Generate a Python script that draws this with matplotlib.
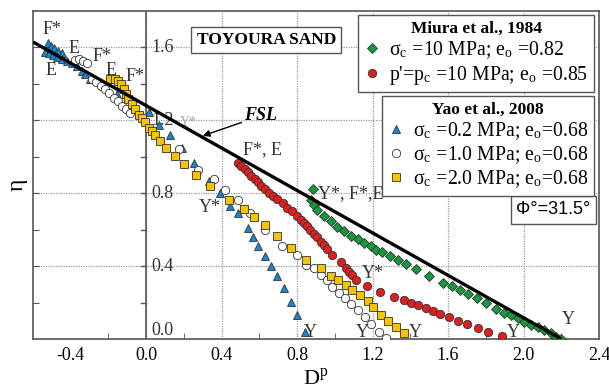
import matplotlib
matplotlib.use("Agg")
import matplotlib.pyplot as plt

plt.rcParams['font.family'] = ['Liberation Serif', 'DejaVu Serif']
plt.rcParams['mathtext.fontset'] = 'stix'

# FSL (phi = 31.5 deg)
fsl_d = [-0.6, 2.2]
fsl_eta = [1.63, 0.0]

# Miura et al., 1984 - sigma_c = 10 MPa
miura_s_d = [0.882, 0.871, 0.889, 0.907, 0.942, 0.978, 1.01, 1.048, 1.088, 1.12, 1.155, 1.19,
             1.217, 1.252, 1.291, 1.335, 1.376, 1.429, 1.5, 1.571, 1.62, 1.663, 1.707, 1.752,
             1.801, 1.854, 1.898, 1.934, 1.969, 2.004, 2.04, 2.075, 2.11, 2.146, 2.173, 2.2]
miura_s_eta = [0.825, 0.765, 0.737, 0.71, 0.673, 0.645, 0.616, 0.59, 0.567, 0.548, 0.526, 0.508,
               0.49, 0.48, 0.457, 0.435, 0.412, 0.385, 0.346, 0.306, 0.29, 0.27, 0.246, 0.224,
               0.196, 0.163, 0.145, 0.132, 0.114, 0.095, 0.077, 0.064, 0.05, 0.031, 0.013, 0.0]

# Miura et al., 1984 - p' = pc = 10 MPa
miura_p_d = [0.485, 0.503, 0.521, 0.538, 0.556, 0.574, 0.591, 0.609, 0.632, 0.65, 0.673, 0.691,
             0.726, 0.748, 0.774, 0.801, 0.818, 0.836, 0.85, 0.868, 0.889, 0.907, 0.925, 0.942,
             0.96, 0.987, 1.031, 1.057, 1.075, 1.093, 1.11, 1.169, 1.24, 1.311, 1.364, 1.403,
             1.441, 1.482, 1.518, 1.558, 1.606, 1.651, 1.7, 1.757, 1.813, 1.884]
miura_p_eta = [0.966, 0.948, 0.933, 0.915, 0.897, 0.878, 0.86, 0.842, 0.823, 0.801, 0.783, 0.768,
               0.746, 0.719, 0.7, 0.673, 0.655, 0.636, 0.618, 0.6, 0.578, 0.559, 0.535, 0.517,
               0.493, 0.462, 0.42, 0.389, 0.37, 0.352, 0.325, 0.29, 0.26, 0.233, 0.215, 0.2,
               0.187, 0.169, 0.156, 0.138, 0.123, 0.101, 0.083, 0.062, 0.04, 0.018]

# Yao et al., 2008 - sigma_c = 0.2 MPa
yao02_d = [-0.522, -0.506, -0.488, -0.465, -0.448, -0.536, -0.513, -0.492, -0.471, -0.448,
           -0.421, -0.394, -0.368, -0.341, -0.324, -0.297, -0.155, 0.013, 0.066, 0.124, 0.19,
           0.252, 0.331, 0.393, 0.446, 0.485, 0.538, 0.567, 0.591, 0.632, 0.659, 0.691, 0.73,
           0.765, 0.801, 0.84]
yao02_eta = [1.626, 1.61, 1.597, 1.58, 1.567, 1.575, 1.567, 1.556, 1.549, 1.535,
             1.525, 1.516, 1.498, 1.47, 1.457, 1.428, 1.342, 1.245, 1.177, 1.117, 1.049,
             0.966, 0.865, 0.801, 0.728, 0.691, 0.609, 0.559, 0.508, 0.453, 0.398, 0.343, 0.279,
             0.205, 0.132, 0.04]

# Yao et al., 2008 - sigma_c = 1.0 MPa
yao10_d = [-0.377, -0.354, -0.333, -0.315, -0.288, -0.265, -0.24, -0.217, -0.195, -0.173,
           -0.152, -0.129, -0.106, -0.085, 0.172, 0.273, 0.358, 0.42, 0.485, 0.549, 0.632,
           0.721, 0.797, 0.845, 0.889, 0.925, 0.956, 0.987, 1.022, 1.052, 1.084, 1.12, 1.158,
           1.194, 1.234, 1.272]
yao10_eta = [1.531, 1.538, 1.525, 1.512, 1.425, 1.41, 1.39, 1.37, 1.348, 1.324,
             1.305, 1.28, 1.263, 1.241, 1.04, 0.93, 0.878, 0.82, 0.761, 0.691, 0.6,
             0.512, 0.462, 0.407, 0.389, 0.352, 0.325, 0.288, 0.255, 0.224, 0.193, 0.16, 0.123,
             0.083, 0.04, 0.004]

# Yao et al., 2008 - sigma_c = 2.0 MPa
yao20_d = [-0.191, -0.164, -0.147, -0.134, -0.12, -0.106, -0.094, -0.076, -0.058, -0.04,
           -0.023, -0.005, 0.013, 0.03, 0.048, 0.075, 0.107, 0.154, 0.199, 0.266, 0.34,
           0.438, 0.517, 0.571, 0.632, 0.694, 0.765, 0.845, 0.925, 0.978, 1.017, 1.057,
           1.093, 1.134, 1.173, 1.204, 1.243, 1.282, 1.323, 1.364]
yao20_eta = [1.425, 1.425, 1.415, 1.397, 1.373, 1.342, 1.315, 1.287, 1.26, 1.232,
             1.214, 1.19, 1.159, 1.14, 1.117, 1.085, 1.049, 1.007, 0.963, 0.902, 0.838,
             0.761, 0.713, 0.669, 0.627, 0.563, 0.499, 0.435, 0.389, 0.347, 0.325, 0.297,
             0.27, 0.242, 0.211, 0.178, 0.132, 0.101, 0.068, 0.035]

xticks = [-0.4, 0.0, 0.4, 0.8, 1.2, 1.6, 2.0, 2.4]
yticks = [0.0, 0.4, 0.8, 1.2, 1.6]

fig = plt.figure(figsize=(6.09, 3.88), dpi=100)
ax = fig.add_axes([0.0542, 0.1263, 0.9294, 0.8453])

ax.set_xlim(-0.6, 2.4)
ax.set_ylim(0.0, 1.8)

# grid
for v in xticks[1:-1]:
    ax.axvline(v, color='#999999', lw=0.9, ls=(0, (1, 1)), zorder=0)
for v in yticks[1:]:
    ax.axhline(v, color='#999999', lw=0.9, ls=(0, (1, 1)), zorder=0)

# inner eta axis at D = 0
ax.axvline(0.0, color='#555555', lw=1.2, zorder=1)
for v in [0.2 * i for i in range(1, 9)]:
    ax.plot([-0.025, 0.0], [v, v], color='#555555', lw=1.0, zorder=1)

ax.plot(fsl_d, fsl_eta, color='black', lw=2.4, zorder=5, solid_capstyle='butt')

mk = dict(ls='none', markeredgecolor='#333333', markeredgewidth=0.6, zorder=4)
l1, = ax.plot(miura_s_d, miura_s_eta, marker='D', ms=5.2, color='#139a3c', **mk)
l2, = ax.plot(miura_p_d, miura_p_eta, marker='o', ms=6, color='#dd1f1f', **mk)
l3, = ax.plot(yao02_d, yao02_eta, marker='^', ms=6, color='#1c84cc', **mk)
l4, = ax.plot(yao10_d, yao10_eta, marker='o', ms=6, color='white', **mk)
l5, = ax.plot(yao20_d, yao20_eta, marker='s', ms=6, color='#f7c200', **mk)

# ticks
ax.set_xticks(xticks)
ax.set_xticklabels(['-0.4', '0.0', '0.4', '0.8', '1.2', '1.6', '2.0', '2.4'], fontsize=13)
ax.set_xticks([-0.2, 0.2, 0.6, 1.0, 1.4, 1.8, 2.2], minor=True)
ax.set_yticks([0.2 * i for i in range(1, 9)])
ax.set_yticklabels([])
ax.tick_params(axis='both', which='both', direction='in', length=4, color='#555555')
ax.tick_params(axis='x', which='major', length=0, pad=6)
ax.tick_params(axis='y', length=4)
for s in ax.spines.values():
    s.set_color('#555555')
    s.set_linewidth(1.2)

for v in yticks:
    ax.text(0.03, v + (0.045 if v == 0 else 0.0), '%.1f' % v, fontsize=13,
            ha='left', va='center', color='#333333', zorder=2)

ax.set_xlabel('D$^\\mathregular{p}$', fontsize=16, labelpad=3)
ax.set_ylabel('η', fontsize=17)
ax.yaxis.set_label_coords(-0.01, 0.47)

# point labels
lab = dict(fontsize=13, color='#333333', zorder=6)
ax.text(-0.5, 1.70, 'F*', ha='center', va='center', **lab)
ax.text(-0.505, 1.474, 'E', ha='center', va='center', **lab)
ax.text(-0.38, 1.595, 'E', ha='center', va='center', **lab)
ax.text(-0.233, 1.551, 'F*', ha='center', va='center', **lab)
ax.text(-0.186, 1.474, 'E', ha='center', va='center', **lab)
ax.text(-0.058, 1.441, 'F*', ha='center', va='center', **lab)
ax.text(0.225, 1.19, 'Y*', ha='center', va='center', fontsize=10, color='#aaaaaa', zorder=3)
ax.text(0.616, 1.04, 'F*, E', ha='center', va='center', **lab)
ax.text(0.91, 0.80, 'Y*, F*,E', ha='left', va='center', **lab)
ax.text(0.335, 0.72, 'Y*', ha='center', va='center', **lab)
ax.text(1.2, 0.357, 'Y*', ha='center', va='center', **lab)
for xd, yd in [(0.87, 0.035), (1.148, 0.035), (1.424, 0.035), (1.944, 0.035), (2.24, 0.105)]:
    ax.text(xd, yd, 'Y', ha='center', va='center', **lab)

ax.annotate('FSL', xy=(0.3, 1.115), xytext=(0.52, 1.225), fontsize=13, fontweight='bold',
            fontstyle='italic', ha='left', va='center',
            arrowprops=dict(arrowstyle='-|>', color='black', lw=1.0, shrinkA=0, shrinkB=0,
                            mutation_scale=10))

ax.text(0.637, 1.64, 'TOYOURA SAND', fontsize=12.5, fontweight='bold', ha='center', va='center',
        bbox=dict(boxstyle='square,pad=0.3', fc='white', ec='#555555', lw=1.0), zorder=7)

ax.text(2.355, 0.71, 'Φ°=31.5°', family=['Liberation Sans', 'DejaVu Sans'], fontsize=13,
        ha='right', va='center',
        bbox=dict(boxstyle='square,pad=0.3', fc='white', ec='#555555', lw=1.0), zorder=7)

leg_kw = dict(loc='upper right', frameon=True, fancybox=False, edgecolor='#555555',
              framealpha=1, borderaxespad=0, handlelength=0.8, handletextpad=0.5,
              borderpad=0.3, labelspacing=0.12, fontsize=14.2,
              title_fontproperties={'weight': 'bold', 'size': 12.5, 'family': 'Liberation Serif'})
leg1 = ax.legend([l1, l2], ['σ$_\\mathregular{c}$ =10 MPa; e$_\\mathregular{o}$ =0.82',
                            "p'=p$_\\mathregular{c}$ =10 MPa; e$_\\mathregular{o}$ =0.85"],
                 title='Miura et al., 1984', bbox_to_anchor=(0.992, 0.987), **leg_kw)
leg1.get_frame().set_linewidth(1.0)
ax.add_artist(leg1)
leg2 = ax.legend([l3, l4, l5], ['σ$_\\mathregular{c}$ =0.2 MPa; e$_\\mathregular{o}$=0.68',
                                'σ$_\\mathregular{c}$ =1.0 MPa; e$_\\mathregular{o}$=0.68',
                                'σ$_\\mathregular{c}$ =2.0 MPa; e$_\\mathregular{o}$=0.68'],
                 title='Yao et al., 2008', bbox_to_anchor=(0.992, 0.741), **leg_kw)
leg2.get_frame().set_linewidth(1.0)
leg1.set_zorder(8)
leg2.set_zorder(8)

fig.savefig('out.png', dpi=100)
